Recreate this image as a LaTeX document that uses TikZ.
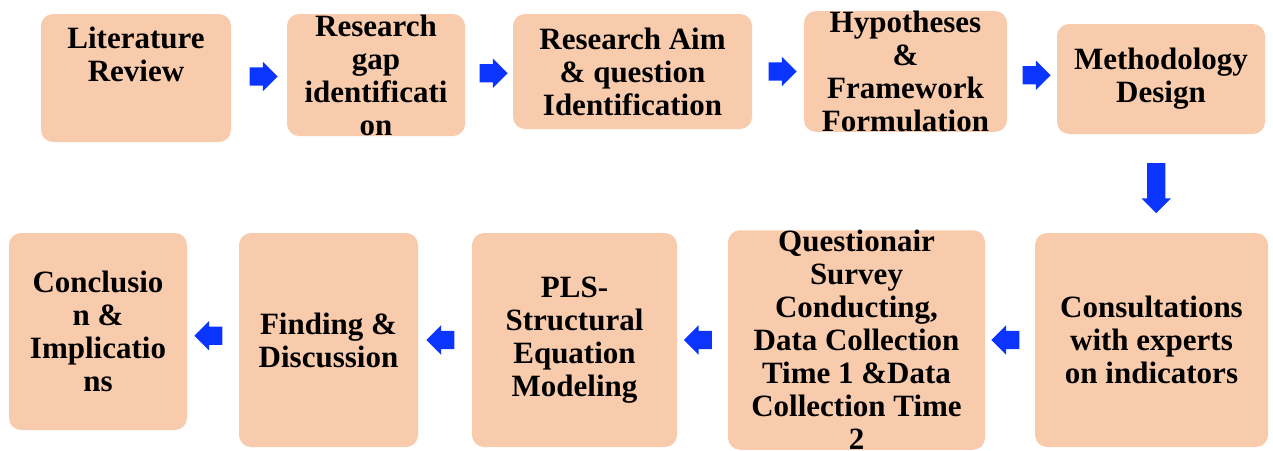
\documentclass[tikz,border=0pt]{standalone}
\usepackage{fontspec}
\setmainfont{Liberation Serif}
\usetikzlibrary{shapes.arrows, calc}

\definecolor{peach}{HTML}{F8CBAD}
\definecolor{flowblue}{HTML}{0B35FF}

\begin{document}
\begin{tikzpicture}[
				x=1pt, y=-1pt,
				blocktext/.style={
					align=center,
					inner sep=0pt,
					font=\fontsize{31}{33}\selectfont\bfseries
				},
				block/.style={
					rectangle,
					fill=peach,
					rounded corners=12pt,
					blocktext
				},
				flow/.style={
					single arrow,
					fill=flowblue,
					inner xsep=0pt,
					inner ysep=9pt,
					single arrow head extend=5.5pt,
					single arrow tip angle=90,
					minimum height=28pt
				}
				]
				\useasboundingbox (0,0) rectangle (1273,450);
				
				% Block 1: Literature Review (text sits high in the box)
				\node[block, minimum width=190pt, minimum height=128pt] (lit) at (136,78) {};
				\node[blocktext] (litText) at ([yshift=23.5pt]lit.center) {Literature\\Review};
				
				% Block 2: Research gap
				\node[block, minimum width=178pt, minimum height=122pt] (gap) at (376,75) {Research\\gap\\identificati\\on};
				
				\node[flow] (a1) at ($(lit.east)!0.5!(gap.west)$) {};
				
				% Block 3: Research aim
				\node[block, minimum width=239pt, minimum height=115pt] (aim) at (632.5,71.5) {Research Aim\\\& question\\Identification};
				
				\node[flow] (a2) at ($(gap.east)!0.5!(aim.west)$) {};
				
				% Block 4: Hypotheses
				\node[block, minimum width=203pt, minimum height=107pt] (hyp) at (905.5,71.5) {Hypotheses\\\&\\Framework\\Formulation};
				
				\node[flow] (a3) at ($(aim.east)!0.5!(hyp.west)$) {};
				
				% Block 5: Methodology
				\node[block, minimum width=208pt, minimum height=110pt] (meth) at (1161,79) {Methodology\\Design};
				
				\node[flow] (a4) at ($(hyp.east)!0.5!(meth.west)$) {};
				
				% Block 6: Consultations (second row, right to left)
				\node[block, minimum width=233pt, minimum height=214pt] (cons) at (1151.5,340) {Consultations\\with experts\\on indicators};
				
				\node[flow, minimum height=50pt, inner xsep=9pt, inner ysep=0pt, shape border rotate=270] (a5) at ($(meth.south)!0.5!(cons.north)$) {};
				
				% Block 7: Questionnaire survey
				\node[block, minimum width=257pt, minimum height=214pt] (quest) at (856.5,340) {Questionair\\Survey\\Conducting,\\Data Collection\\Time 1 \&Data\\Collection Time\\2};
				
				\node[flow, shape border rotate=180] (a6) at ($(cons.west)!0.5!(quest.east)$) {};
				
				% Block 8: PLS-SEM
				\node[block, minimum width=205pt, minimum height=214pt] (pls) at (574.5,340) {PLS-\\Structural\\Equation\\Modeling};
				
				\node[flow, shape border rotate=180] (a7) at ($(quest.west)!0.5!(pls.east)$) {};
				
				% Block 9: Findings
				\node[block, minimum width=179pt, minimum height=214pt] (find) at (328.5,340) {Finding \&\\Discussion};
				
				\node[flow, shape border rotate=180] (a8) at ($(pls.west)!0.5!(find.east)$) {};
				
				% Block 10: Conclusion
				\node[block, minimum width=178pt, minimum height=197pt] (concl) at (98,331.5) {Conclusio\\n \&\\Implicatio\\ns};
				
				\node[flow, shape border rotate=180] (a9) at ($(find.west)!0.5!(concl.east)$) {};
				
			\end{tikzpicture}
\end{document}
